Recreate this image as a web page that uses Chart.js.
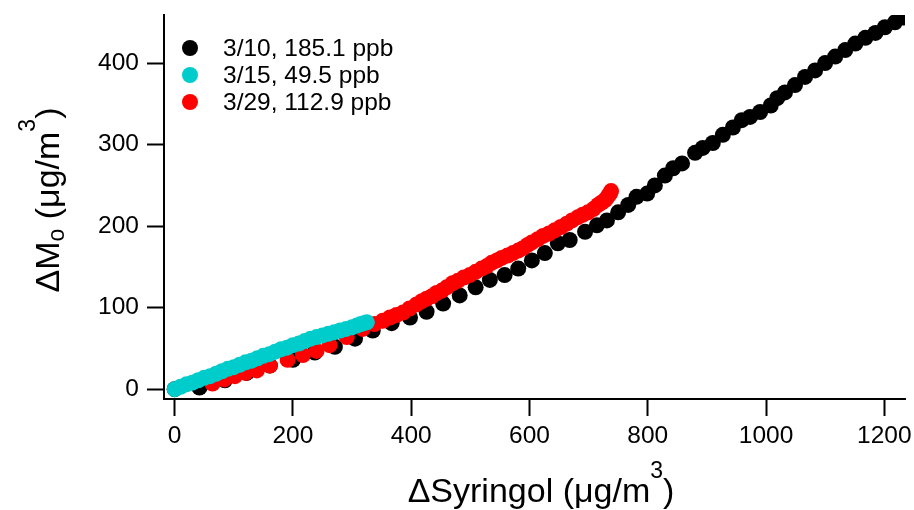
<!DOCTYPE html>
<html>
<head>
<meta charset="utf-8">
<script src="https://cdn.jsdelivr.net/npm/chart.js@4.4.1/dist/chart.umd.min.js"></script>
<style>
html,body{margin:0;padding:0;background:#fff;}
#wrap{width:914px;height:510px;}
</style>
</head>
<body>
<div id="wrap"><canvas id="canvas" width="914" height="510"></canvas></div>
<script>
const seriesNames=["3/10, 185.1 ppb","3/15, 49.5 ppb","3/29, 112.9 ppb"];
const seriesColors=["#000000","#00cccc","#ff0000"];
const blackX=[0,42,85,122,161,200,237,271,305,335,367,398,426,454,482,509,533,558,581,604,626,648,668,694,714,731,750,767,781,799,812,829,843,858,880,893,910,927,944,959,973,990,1008,1019,1032,1049,1066,1083,1100,1117,1134,1151,1168,1185,1201,1218,1232];
const blackY=[0,2,11,20,29,36,45,52,62,72,81,88,95,105,115,125,134,140,148,158,167,179,183,193,201,207,217,226,236,240,250,262,271,277,290,296,302,312,321,330,334,340,348,357,364,373,383,391,400,408,416,424,431,437,444,450,456];
const cyanX=[0,10,20,30,40,50,60,70,80,90,100,110,120,130,140,150,160,170,180,190,200,210,220,230,240,250,260,270,280,290,300,308,315,320,325];
const cyanY=[0,3,6,8,11,14,16,19,22,25,27,30,33,35,38,41,43,46,49,51,54,56,59,62,64,66,68,70,72,74,76,78,80,81,82];
const redX=[64,84,102,120,139,161,191,217,240,262,291,318,338,352,364,375,386,397,409,418,426,435,443,452,460,470,479,489,499,509,519,528,536,545,553,563,572,581,589,597,604,614,623,633,643,653,663,672,682,690,699,708,716,722,728,731,734,736,738];
const redY=[7,12,16,20,23,29,36,42,47,54,64,74,80,84,88,91,94,99,104,108,111,114,118,121,125,130,133,137,140,144,148,151,155,158,161,164,167,170,173,177,180,184,188,191,195,199,203,207,211,214,217,221,226,229,232,235,238,240,243];
const xTicks=[0,200,400,600,800,1000,1200];
const yTicks=[0,100,200,300,400];

const FONT="'Liberation Sans', Arial, sans-serif";

function pts(xs,ys){
    return xs.map((x,i)=>({x:x,y:ys[i]}));
}
function drawRuns(ctx,runs,cx,cy){
    let w=0;
    runs.forEach(r=>{
        ctx.font=r.s+"px "+FONT;
        r.w=ctx.measureText(r.t).width;
        w+=r.w;
    });
    let x=cx-w/2;
    ctx.textAlign="left";
    ctx.textBaseline="alphabetic";
    ctx.fillStyle="#000";
    runs.forEach(r=>{
        ctx.font=r.s+"px "+FONT;
        ctx.fillText(r.t,x,cy+r.dy);
        x+=r.w;
    });
}
const extras={
    id:"extras",
    afterDraw(chart){
        const ctx=chart.ctx;
        ctx.save();
        drawRuns(ctx,[{t:"ΔSyringol (μg/m",s:34,dy:0},{t:"3",s:23,dy:-24},{t:")",s:34,dy:0}],541,502);
        ctx.translate(59,200);
        ctx.rotate(-Math.PI/2);
        drawRuns(ctx,[{t:"ΔM",s:34,dy:0},{t:"o",s:23,dy:5},{t:" (μg/m",s:34,dy:0},{t:"3",s:23,dy:-24},{t:")",s:34,dy:0}],0,0);
        ctx.restore();
        ctx.save();
        seriesNames.forEach((name,i)=>{
            const y=48+i*27;
            ctx.fillStyle=seriesColors[i];
            ctx.beginPath();
            ctx.arc(190,y,8,0,Math.PI*2);
            ctx.fill();
            ctx.fillStyle="#000";
            ctx.font="24.5px "+FONT;
            ctx.textAlign="left";
            ctx.textBaseline="middle";
            ctx.fillText(name,223,y+1);
        });
        ctx.restore();
    }
};
function axis(min,max,ticks,fitKey,fitVal){
    return {
        type:"linear",
        min:min,
        max:max,
        afterBuildTicks:s=>{s.ticks=ticks.map(v=>({value:v}));},
        afterFit:s=>{
            s[fitKey]=fitVal;
            s.paddingTop=0;s.paddingBottom=0;s.paddingLeft=0;s.paddingRight=0;
        },
        grid:{display:true,drawOnChartArea:false,drawTicks:true,tickLength:17,tickWidth:2,tickColor:"#000"},
        border:{display:true,width:2,color:"#000"},
        ticks:{color:"#000",font:{family:FONT,size:24.5},padding:fitKey==="width"?8:6,maxRotation:0,autoSkip:false,callback:v=>String(v)}
    };
}
new Chart(document.getElementById("canvas"),{
    type:"scatter",
    data:{
        datasets:[
            {label:seriesNames[0],data:pts(blackX,blackY),backgroundColor:seriesColors[0],order:2},
            {label:seriesNames[1],data:pts(cyanX,cyanY),backgroundColor:seriesColors[1],order:0},
            {label:seriesNames[2],data:pts(redX,redY),backgroundColor:seriesColors[2],order:1}
        ]
    },
    options:{
        responsive:false,
        animation:false,
        devicePixelRatio:1,
        layout:{padding:{top:15,right:9,left:0,bottom:0}},
        elements:{point:{radius:8,borderWidth:0,hoverRadius:8}},
        plugins:{legend:{display:false},tooltip:{enabled:false}},
        scales:{
            x:axis(-18,1235,xTicks,"height",111),
            y:axis(-12,459,yTicks,"width",164)
        }
    },
    plugins:[extras]
});
</script>
</body>
</html>
